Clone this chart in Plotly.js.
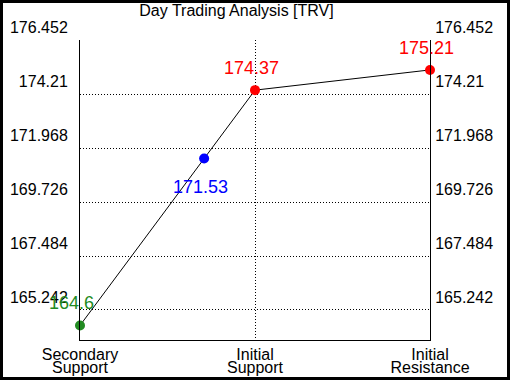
<!DOCTYPE html>
<html>
<head>
<meta charset="utf-8">
<script src="https://cdn.plot.ly/plotly-3.0.1.min.js"></script>
<style>
html,body{margin:0;padding:0;background:#fff;}
#wrap{position:relative;width:510px;height:380px;}
#chart{width:510px;height:380px;}
#frame{position:absolute;left:0;top:0;width:510px;height:380px;box-sizing:border-box;border:3px solid #000;pointer-events:none;}
</style>
</head>
<body>
<div id="wrap"><div id="chart"></div><div id="frame"></div></div>
<script>
// Data
const categories = ["Secondary Support", "Initial Support", "Initial Resistance"];
const categoryX = [0, 1, 2];
const levels = [164.6, 174.37, 175.21];
const levelColors = ["forestgreen", "red", "red"];
const currentPrice = 171.53;
const currentColor = "blue";
const yTickVals = [165.242, 167.484, 169.726, 171.968, 174.21, 176.452];
const yRange = [163.996, 176.4525];
const titleText = "Day Trading Analysis [TRV]";

// position of current price along the support segment
const curX = categoryX[0] + (currentPrice - levels[0]) / (levels[1] - levels[0]) * (categoryX[1] - categoryX[0]);

const line1 = categories.map(c => c.split(" ")[0]);
const line2 = categories.map(c => c.split(" ").slice(1).join(" "));
const yTickText = yTickVals.map(v => String(v));

const FONT = "Liberation Sans, Arial, sans-serif";
const DOTS = "1px,2px";

const traces = [
  {x: categoryX, y: levels, mode: "lines", line: {color: "black", width: 1}, hoverinfo: "skip", showlegend: false, cliponaxis: false},
  {x: categoryX, y: levels, mode: "markers", marker: {color: levelColors, size: 10}, hoverinfo: "skip", showlegend: false, cliponaxis: false},
  {x: [curX], y: [currentPrice], mode: "markers", marker: {color: currentColor, size: 10}, hoverinfo: "skip", showlegend: false, cliponaxis: false},
  {x: [0], y: [levels[0]], xaxis: "x2", yaxis: "y2", mode: "markers", marker: {opacity: 0}, hoverinfo: "skip", showlegend: false}
];

const annotations = [];
levels.forEach((v, i) => {
  annotations.push({x: categoryX[i], y: v, text: String(v), showarrow: false, xanchor: "left", yanchor: "middle",
    xshift: -33, yshift: 22, font: {family: FONT, size: 18, color: levelColors[i]}});
});
annotations.push({x: curX, y: currentPrice, text: String(currentPrice), showarrow: false, xanchor: "left", yanchor: "middle",
  xshift: -33, yshift: -28, font: {family: FONT, size: 18, color: currentColor}});

const yCommon = {range: yRange, tickvals: yTickVals, ticktext: yTickText, ticks: "", zeroline: false,
  tickfont: {family: FONT, size: 16, color: "#000"}, showline: true, linecolor: "black", linewidth: 1, ticklabelshift: -13};

const layout = {
  width: 510, height: 380,
  margin: {l: 80, r: 80, t: 40, b: 40},
  paper_bgcolor: "white", plot_bgcolor: "white",
  title: {text: titleText, x: 236.5/510, xanchor: "center", xref: "container", y: 0.988, yanchor: "top", yref: "container",
    font: {family: FONT, size: 16, color: "#000"}},
  xaxis: {range: [0, 2], tickvals: categoryX, ticktext: line1, ticks: "", zeroline: false,
    showgrid: true, gridcolor: "black", griddash: DOTS, gridwidth: 1,
    showline: true, linecolor: "black", linewidth: 1,
    tickfont: {family: FONT, size: 16, color: "#000"}, ticklabelstandoff: 0},
  xaxis2: {range: [0, 2], tickvals: categoryX, ticktext: line2, ticks: "", zeroline: false, showgrid: false,
    overlaying: "x", side: "bottom", anchor: "y",
    tickfont: {family: FONT, size: 16, color: "#000"}, ticklabelstandoff: 16},
  yaxis: Object.assign({}, yCommon, {side: "left", showgrid: true, gridcolor: "black", griddash: DOTS, gridwidth: 1, ticklabelstandoff: 8}),
  yaxis2: Object.assign({}, yCommon, {side: "right", overlaying: "y", anchor: "x", showgrid: false, ticklabelstandoff: 1}),
  annotations: annotations,
  showlegend: false,
  hovermode: false
};

Plotly.newPlot("chart", traces, layout, {displayModeBar: false, staticPlot: true});
</script>
</body>
</html>
